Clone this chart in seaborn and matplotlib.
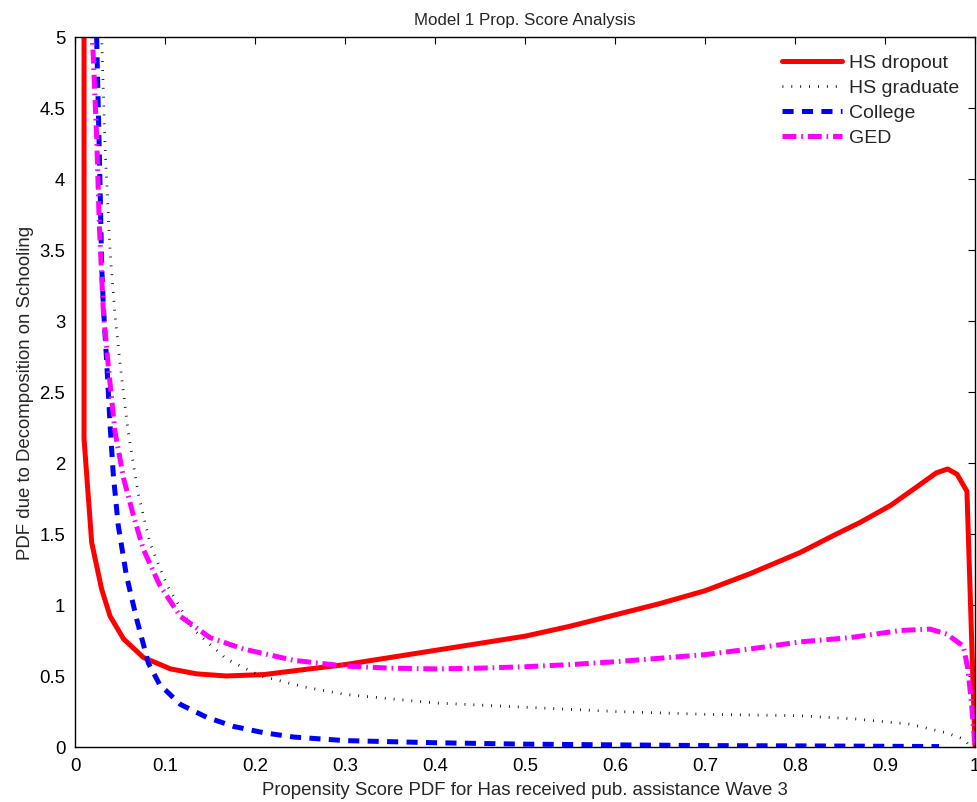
import numpy as np
import pandas as pd
import matplotlib
matplotlib.use("Agg")
import matplotlib.pyplot as plt
import seaborn as sns

# === Data ===
x_dropout = [0.010, 0.010, 0.0185, 0.0296, 0.039, 0.054, 0.076, 0.106, 0.135, 0.168,
             0.21, 0.261, 0.3, 0.35, 0.4, 0.45, 0.5, 0.55, 0.6, 0.65, 0.7, 0.75,
             0.806, 0.843, 0.872, 0.906, 0.935, 0.957, 0.9696, 0.98, 0.991, 1.0]
y_dropout = [9.0, 2.17, 1.44, 1.11, 0.92, 0.76, 0.63, 0.55, 0.515, 0.50,
             0.51, 0.55, 0.58, 0.63, 0.68, 0.73, 0.78, 0.85, 0.93, 1.01, 1.10, 1.22,
             1.37, 1.49, 1.58, 1.70, 1.83, 1.93, 1.957, 1.92, 1.80, 0.0]

x_graduate = [0.027, 0.0296, 0.0333, 0.039, 0.0444, 0.05, 0.059, 0.07, 0.083, 0.102,
              0.131, 0.168, 0.206, 0.257, 0.3, 0.35, 0.4, 0.5, 0.6, 0.7, 0.806,
              0.868, 0.928, 0.968, 0.987, 0.994, 1.0]
y_graduate = [5.8, 5.0, 4.23, 3.48, 3.04, 2.70, 2.22, 1.79, 1.44, 1.14,
              0.83, 0.62, 0.50, 0.42, 0.37, 0.34, 0.31, 0.28, 0.25, 0.23, 0.22,
              0.197, 0.16, 0.10, 0.056, 0.01, 0.0]

x_college = [0.022, 0.024, 0.0278, 0.0296, 0.0315, 0.035, 0.039, 0.0426, 0.048, 0.057,
             0.0685, 0.0815, 0.094, 0.117, 0.146, 0.176, 0.21, 0.243, 0.3, 0.4, 0.5,
             0.6, 0.7, 0.8, 0.9, 0.96]
y_college = [6.0, 5.0, 3.95, 3.39, 3.10, 2.73, 2.26, 1.91, 1.56, 1.21,
             0.90, 0.59, 0.44, 0.30, 0.21, 0.145, 0.10, 0.07, 0.045, 0.03, 0.02,
             0.015, 0.01, 0.008, 0.005, 0.003]

x_ged = [0.017, 0.0193, 0.024, 0.027, 0.0315, 0.037, 0.0444, 0.054, 0.0648, 0.076,
         0.094, 0.117, 0.15, 0.187, 0.243, 0.3, 0.35, 0.4, 0.45, 0.5, 0.55, 0.6,
         0.65, 0.7, 0.75, 0.806, 0.861, 0.917, 0.95, 0.9685, 0.987, 0.992, 0.996, 1.0]
y_ged = [6.0, 5.0, 4.30, 3.67, 3.06, 2.68, 2.22, 1.89, 1.63, 1.39,
         1.14, 0.92, 0.77, 0.69, 0.61, 0.57, 0.555, 0.55, 0.555, 0.565, 0.58, 0.60,
         0.625, 0.65, 0.69, 0.74, 0.77, 0.82, 0.83, 0.795, 0.71, 0.55, 0.31, 0.0]

labels = ["HS dropout", "HS graduate", "College", "GED"]
xticks = np.round(np.arange(0, 1.01, 0.1), 1)
yticks = np.arange(0, 5.01, 0.5)

# === Style ===
sns.set_style("white")
plt.rcParams["font.family"] = ["Liberation Sans", "DejaVu Sans"]
plt.rcParams["lines.scale_dashes"] = False

fig = plt.figure(figsize=(9.77, 8.03), dpi=100)
ax = fig.add_axes([0.0768, 0.0685, 0.9212, 0.8845])

series = [
    (x_dropout, y_dropout, labels[0], "#ff0000", 3.6, "-"),
    (x_graduate, y_graduate, labels[1], "#000000", 2.0, (0, (0.6, 5.8))),
    (x_college, y_college, labels[2], "#0000ff", 3.6, (0, (8, 6))),
    (x_ged, y_ged, labels[3], "#ff00ff", 3.6, (0, (10, 3.5, 1.2, 3.5))),
]

for xs, ys, name, color, lw, ls in series:
    df = pd.DataFrame({"x": xs, "y": ys})
    sns.lineplot(data=df, x="x", y="y", ax=ax, estimator=None, sort=False,
                 color=color, linewidth=lw, linestyle=ls, label=name)

for line in ax.get_lines():
    line.set_dash_capstyle("butt")

ax.set_xlim(0, 1)
ax.set_ylim(0, 5)
ax.set_xticks(xticks)
ax.set_xticklabels([("%g" % t) for t in xticks])
ax.set_yticks(yticks)
ax.set_yticklabels([("%g" % t) for t in yticks])
ax.tick_params(direction="in", top=True, right=True, length=5, width=0.8,
               labelsize=13.4, colors="black", pad=7)
for sp in ax.spines.values():
    sp.set_linewidth(1.0)
    sp.set_color("black")

ax.set_title("Model 1 Prop. Score Analysis", fontsize=12.2, pad=9)
ax.set_xlabel("Propensity Score PDF for Has received pub. assistance Wave 3", fontsize=13.4, labelpad=5)
ax.set_ylabel("PDF due to Decomposition on Schooling", fontsize=13.4, labelpad=4)

leg = ax.legend(loc="upper right", frameon=False, fontsize=14, handlelength=3.1,
                handletextpad=0.36, labelspacing=0.38, borderaxespad=0, borderpad=0,
                bbox_to_anchor=(0.983, 0.976))

fig.savefig("out.png", dpi=100)
